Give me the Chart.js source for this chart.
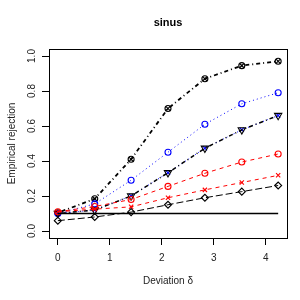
<!DOCTYPE html>
<html>
<head>
<meta charset="utf-8">
<script src="https://cdn.jsdelivr.net/npm/chart.js@4"></script>
<style>
  html, body { margin: 0; padding: 0; background: #fff; }
  #wrap { width: 300px; height: 300px; }
</style>
</head>
<body>
<div id="wrap"><canvas id="chart" width="300" height="300"></canvas></div>
<script>
// sinus — empirical rejection vs deviation

const deltas = [0, 0.71, 1.41, 2.12, 2.83, 3.54, 4.24];
const xTicks = [0, 1, 2, 3, 4];
const yTicks = [0, 0.2, 0.4, 0.6, 0.8, 1.0];

const topBlack   = [0.104, 0.184, 0.41, 0.70, 0.87, 0.945, 0.97];
const blueCirc   = [0.10, 0.155, 0.29, 0.45, 0.61, 0.727, 0.79];
const triDown    = [0.10, 0.12, 0.20, 0.333, 0.473, 0.578, 0.66];
const redCirc    = [0.11, 0.14, 0.18, 0.255, 0.33, 0.394, 0.44];
const redCross   = [0.11, 0.125, 0.138, 0.19, 0.235, 0.277, 0.318];
const diamonds   = [0.059, 0.08, 0.108, 0.15, 0.19, 0.225, 0.26];
const nominal    = [0.1, 0.1, 0.1, 0.1, 0.1, 0.1, 0.1];

const FONT = '"Liberation Sans", Arial, sans-serif';
const pts = arr => arr.map((v, i) => ({ x: deltas[i], y: v }));

const series = (data, color, dash, style, extra) => Object.assign({
  data: pts(data),
  borderColor: color,
  backgroundColor: 'transparent',
  borderWidth: 1,
  borderDash: dash,
  pointStyle: style,
  pointRadius: 3,
  pointBorderColor: color,
  pointBackgroundColor: 'transparent',
  pointBorderWidth: 1.1,
  tension: 0,
  fill: false,
}, extra || {});

// box + all the axis text, R style
const rText = {
  id: 'rText',
  afterDraw(chart) {
    const { ctx, chartArea: a, scales: { x, y } } = chart;
    ctx.save();
    ctx.strokeStyle = '#000';
    ctx.lineWidth = 1;
    ctx.strokeRect(a.left + 0.5, a.top + 0.5, a.right - a.left, a.bottom - a.top);

    ctx.fillStyle = '#222';
    ctx.font = '10px ' + FONT;
    ctx.textAlign = 'center';
    ctx.textBaseline = 'middle';
    xTicks.forEach(v => ctx.fillText(String(v), x.getPixelForValue(v), 258));
    yTicks.forEach(v => {
      ctx.save();
      ctx.translate(32, y.getPixelForValue(v));
      ctx.rotate(-Math.PI / 2);
      ctx.fillText(v.toFixed(1), 0, 0);
      ctx.restore();
    });
    ctx.fillText('Deviation \u03b4', (a.left + a.right) / 2, 281);
    ctx.save();
    ctx.translate(12, (a.top + a.bottom) / 2);
    ctx.rotate(-Math.PI / 2);
    ctx.fillText('Empirical rejection', 0, 0);
    ctx.restore();

    ctx.fillStyle = '#000';
    ctx.font = 'bold 11px ' + FONT;
    ctx.fillText('sinus', (a.left + a.right) / 2, 23);
    ctx.restore();
  }
};

new Chart(document.getElementById('chart'), {
  type: 'line',
  data: {
    datasets: [
      series(nominal, '#000', [], false, { pointRadius: 0, borderWidth: 1.3 }),
      series(diamonds, '#000', [7, 3], 'rectRot', { pointRadius: 3.5 }),
      series(redCross, '#ff0000', [4, 4], 'crossRot'),
      series(redCirc, '#ff0000', [4, 4], 'circle'),
      series(triDown, '#000', [1, 3, 4, 3], 'triangle', { pointRotation: 180, pointRadius: 4.2, borderWidth: 1.5 }),
      series(triDown, '#0000ff', [1, 3], 'crossRot'),
      series(blueCirc, '#0000ff', [1, 3], 'circle'),
      series(topBlack, '#000', [1, 3, 4, 3], 'circle', { borderWidth: 1.8 }),
      series(topBlack, '#000', [], 'crossRot', { showLine: false }),
    ]
  },
  options: {
    responsive: false,
    animation: false,
    events: [],
    layout: { padding: { top: 49, right: 13, left: 0, bottom: 0 } },
    plugins: { legend: { display: false }, title: { display: false }, tooltip: { enabled: false } },
    scales: {
      x: {
        type: 'linear', min: -0.17, max: 4.41,
        afterFit: s => { s.height = 62; },
        afterBuildTicks: s => { s.ticks = xTicks.map(v => ({ value: v })); },
        ticks: { display: false },
        grid: { drawOnChartArea: false, drawTicks: true, tickLength: 7, color: '#000' },
        border: { display: false },
      },
      y: {
        type: 'linear', min: -0.04, max: 1.04,
        afterFit: s => { s.width = 49; },
        afterBuildTicks: s => { s.ticks = yTicks.map(v => ({ value: v })); },
        ticks: { display: false },
        grid: { drawOnChartArea: false, drawTicks: true, tickLength: 7, color: '#000' },
        border: { display: false },
      }
    }
  },
  plugins: [rText]
});
</script>
</body>
</html>
